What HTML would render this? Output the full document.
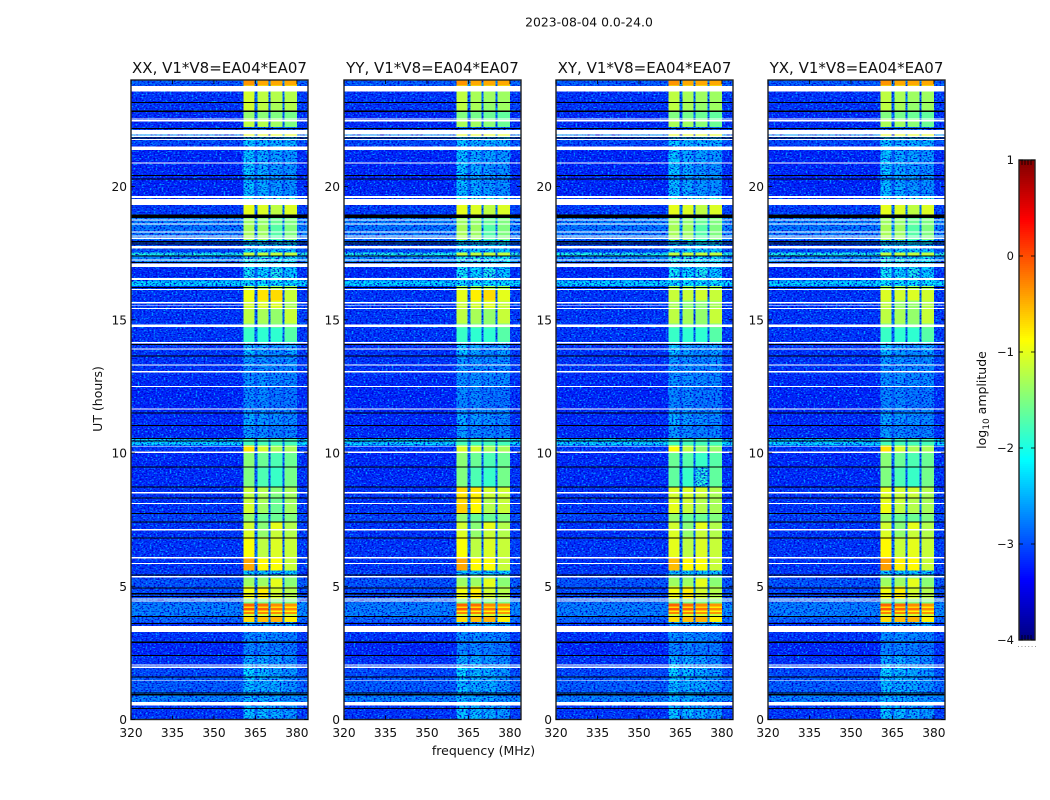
<!DOCTYPE html>
<html lang="en">
<head>
<meta charset="utf-8">
<title>2023-08-04 dynamic spectra</title>
<style>
html,body{margin:0;padding:0;background:#fff;}
svg{display:block;font-family:"DejaVu Sans","Liberation Sans",sans-serif;fill:#111;}
</style>
</head>
<body>
<svg id="figure" xmlns="http://www.w3.org/2000/svg" width="1050" height="800" viewBox="0 0 1050 800">
<defs>
<filter id="speckLight" x="0" y="0" width="1" height="1" color-interpolation-filters="sRGB">
<feTurbulence type="fractalNoise" baseFrequency="0.5 0.7" numOctaves="1" seed="4"/>
<feColorMatrix type="matrix" values="0 0 0 0 0  0 0 0 0 0.62  0 0 0 0 1  0 0 0 5 -2.55"/>
</filter>
<filter id="speckDark" x="0" y="0" width="1" height="1" color-interpolation-filters="sRGB">
<feTurbulence type="fractalNoise" baseFrequency="0.5 0.72" numOctaves="1" seed="11"/>
<feColorMatrix type="matrix" values="0 0 0 0 0  0 0 0 0 0  0 0 0 0 0.82  0 0 0 4 -1.85"/>
</filter>
</defs>
<text x="589" y="26.5" font-size="12.4" text-anchor="middle">2023-08-04 0.0-24.0</text>
<text x="483.5" y="755" font-size="12.5" text-anchor="middle">frequency (MHz)</text>
<text transform="translate(102,399) rotate(-90)" font-size="12.5" text-anchor="middle">UT (hours)</text>
<text transform="translate(986,400) rotate(-90)" font-size="12.5" text-anchor="middle">log<tspan font-size="9" dy="3">10</tspan><tspan dy="-3"> amplitude</tspan></text>
<g id="panels"></g>
<g id="colorbar"></g>
</svg>
<script>
// ---------- chart data ----------
const panelNames = ['XX', 'YY', 'XY', 'YX'];
const panelTitleSuffix = ', V1*V8=EA04*EA07';
const xTicks = [320, 335, 350, 365, 380];
const yTicks = [0, 5, 10, 15, 20];
const colorbarTicks = [1, 0, -1, -2, -3, -4];
const colorbarTickLabels = ['1', '0', '\u22121', '\u22122', '\u22123', '\u22124'];
const freqLimits = [320, 384];
const timeLimits = [0, 24];
const valueLimits = [-4, 1];

// frequency edges (MHz): background, band 1, gap, band 2, gap, band 3, gap, band 4, tail
const freqEdges = [320, 360.6, 364.7, 365.8, 369.7, 370.4, 374.7, 375.5, 380, 384];

// time row upper edges (hours), last row ends at 0
const rowTop = [24,23.80,23.57,23.20,22.86,22.56,22.23,21.96,21.89,21.55,20.95,20.46,20.31,19.64,19.30,18.96,18.83,18.55,17.99,17.87,17.53,17.42,17.16,16.97,16.60,16.48,16.26,16.15,15.73,15.40,14.87,14.72,14.19,14.12,13.71,13.33,12.88,12.51,11.68,11.53,11.04,10.59,10.52,10.29,10.03,9.50,8.75,8.53,8.34,8.12,7.74,7.44,7.14,6.84,6.09,5.60,5.45,5.30,5.00,4.55,4.36,4.25,4.18,4.10,4.03,3.95,3.88,3.65,3.50,3.28,2.90,2.41,2.04,1.62,1.47,1.02,0.65,0.42];
const bgLevel = [-2.9,-3.08,-3.12,-3.12,-3.18,-3.18,-3.08,-2.6,-3,-3.2,-3.2,-3.2,-3.2,-3.08,-3.08,-3.08,-2.7,-2.75,-2.95,-3,-2,-2.65,-3.08,-3.18,-3.08,-2.25,-3.08,-3.12,-3.12,-3.12,-3.08,-3.12,-3.08,-3.12,-3.12,-3.12,-3.18,-3.2,-3.18,-3.18,-3.18,-3,-2.25,-3.12,-3.18,-3.18,-3.12,-3.12,-3.12,-3.12,-3.05,-3.12,-3.12,-3.12,-3.12,-3.08,-3.08,-2.95,-3,-2.8,-2.7,-2.7,-2.7,-2.7,-2.7,-2.7,-2.85,-3.08,-3.08,-3.12,-3.2,-3.12,-3,-2.9,-2.9,-2.7,-3.08,-3.12];
const band1 = [-0.35,-1,-1.1,-1.1,-1.4,-1.2,-2.8,-1,-2.3,-2.3,-2.3,-2.5,-2.35,-2,-1.0,-1,-1.35,-1.3,-2.1,-2.3,-1.2,-2,-2.2,-2.05,-2,-2.15,-1.3,-0.95,-1.1,-1.2,-1.5,-1.85,-1.9,-2.3,-2.55,-2.6,-2.6,-2.65,-2.6,-2.45,-2.55,-2.5,-1.8,-0.75,-1.45,-1.5,-1.15,-1.2,-1.15,-1.1,-1.4,-1.1,-1.05,-0.9,-0.45,-2.3,-1.5,-1.35,-0.95,-1.5,-0.1,-0.7,-0.05,-0.8,-0.25,-1.1,-0.7,-2.5,-2.5,-2.6,-2.65,-2.45,-2.2,-2.3,-2.35,-2.4,-2.45,-2.3];
const band2 = [-0.45,-1,-1.2,-1.2,-1.45,-1.25,-2.8,-1,-2.4,-2.45,-2.45,-2.5,-2.45,-2,-1.05,-1,-1.4,-1.35,-2.1,-2.3,-1.2,-2,-2.2,-2.2,-2,-2.15,-1.3,-0.75,-1.05,-1.3,-1.5,-1.9,-1.9,-2.5,-2.6,-2.6,-2.6,-2.65,-2.6,-2.55,-2.65,-2.5,-1.8,-1.1,-1.6,-1.75,-1.25,-1.3,-1.3,-1.35,-1.6,-1.45,-1.4,-1.2,-0.85,-2.3,-1.5,-1.35,-0.8,-1.5,-0.15,-0.7,-0.1,-0.8,-0.25,-1.1,-0.55,-2.5,-2.5,-2.6,-2.65,-2.45,-2.35,-2.4,-2.45,-2.45,-2.45,-2.35];
const band3 = [-0.45,-1,-1.25,-1.3,-1.5,-1.35,-2.8,-1,-2.4,-2.5,-2.55,-2.55,-2.55,-2,-1.2,-1,-1.6,-1.7,-2.1,-2.3,-1.2,-2.1,-2.2,-2,-2,-2.15,-1.3,-0.7,-1.05,-1.4,-1.5,-1.9,-1.9,-2.6,-2.65,-2.65,-2.65,-2.75,-2.65,-2.6,-2.7,-2.55,-1.8,-1.3,-1.75,-1.85,-1.45,-1.5,-1.6,-1.6,-1.6,-1,-1.15,-1.05,-0.9,-2.3,-1.5,-1,-1.1,-1.5,-0.3,-0.7,-0.2,-0.85,-0.3,-1.1,-0.5,-2.5,-2.5,-2.65,-2.7,-2.55,-2.45,-2.45,-2.45,-2.5,-2.55,-2.45];
const band4 = [-0.45,-1,-1.25,-1.25,-1.55,-1.5,-2.8,-1,-2.4,-2.55,-2.6,-2.6,-2.6,-2,-1.05,-1,-1.5,-1.5,-2.1,-2.3,-1.2,-2.1,-2.2,-2.3,-2,-2.15,-1.3,-1.15,-1.3,-1.15,-1.5,-1.7,-1.9,-2.5,-2.6,-2.65,-2.65,-2.75,-2.65,-2.65,-2.7,-2.55,-1.8,-1.3,-1.6,-1.55,-1.3,-1.35,-1.35,-1.35,-1.5,-1.25,-1.25,-1.15,-1.15,-2.3,-1.5,-1.45,-1.25,-1.5,-0.35,-0.8,-0.3,-0.9,-0.35,-1.15,-0.8,-2.5,-2.5,-2.7,-2.75,-2.65,-2.55,-2.6,-2.6,-2.6,-2.6,-2.55];

// per-panel adjustment windows: panel index, upper hour, lower hour, band offsets
const deltaPanel = [1, 1, 1, 2, 2, 2, 2, 3, 3, 3, 1, 2, 3];
const deltaTop = [8.75, 10.29, 16.15, 16.15, 10.29, 6.84, 8.75, 16.15, 8.75, 6.84, 23.57, 23.57, 23.57];
const deltaBottom = [7.74, 10.03, 15.40, 15.40, 8.75, 5.60, 7.74, 15.40, 7.74, 5.60, 22.23, 22.23, 22.23];
const deltaBand1 = [0.45, -0.3, -0.05, -0.2, -0.15, -0.1, 0.1, -0.1, 0.15, 0.05, -0.1, -0.1, -0.1];
const deltaBand2 = [0.5, 0, -0.05, -0.4, -0.1, 0, 0.2, -0.35, 0.15, 0.05, -0.1, -0.1, -0.1];
const deltaBand3 = [0.35, 0, 0, -0.4, -0.1, 0, 0.35, -0.35, 0.35, 0.05, -0.1, -0.1, -0.1];
const deltaBand4 = [0.2, 0, 0.15, 0, -0.1, 0, 0.05, 0.05, 0.05, 0, -0.1, -0.1, -0.1];

// flagged (blank) time ranges, hours
const flaggedTop = [23.78,22.56,22.49,22.13,21.91,21.78,21.51,20.91,19.64,19.53,18.77,18.62,18.32,18.17,18.08,17.77,17.27,17.12,16.56,16.15,15.66,15.56,15.45,14.83,14.16,13.93,13.33,13.07,12.51,11.68,10.27,10.05,8.53,8.12,7.14,6.09,5.87,5.38,4.55,4.46,3.51,2.06,1.98,1.47,0.66];
const flaggedBottom = [23.57,22.52,22.45,21.96,21.87,21.74,21.37,20.87,19.58,19.31,18.73,18.58,18.28,18.13,18.04,17.68,17.23,16.98,16.50,16.11,15.62,15.53,15.41,14.73,14.12,13.89,13.28,13.03,12.47,11.64,10.24,10.01,8.49,8.08,7.10,6.05,5.83,5.32,4.51,4.42,3.29,2.02,1.94,1.44,0.53];

// zero-amplitude (black) time ranges, hours
const zeroTop = [23.18,22.85,22.20,21.85,20.44,20.31,18.96,17.95,17.87,17.42,17.17,16.24,14.10,13.67,11.53,11.06,10.57,10.48,9.49,8.75,8.33,7.75,7.43,6.83,5.45,4.95,4.74,4.64,3.88,3.62,2.92,2.43,1.62,1.02,0.95,0.44];
const zeroBottom = [23.14,22.79,22.16,21.81,20.40,20.27,18.83,17.91,17.83,17.38,17.13,16.20,14.06,13.63,11.49,11.02,10.53,10.44,9.45,8.71,8.29,7.71,7.39,6.79,5.40,4.91,4.70,4.60,3.84,3.58,2.88,2.39,1.58,0.98,0.91,0.40];

// ---------- layout ----------
const SVGNS = 'http://www.w3.org/2000/svg';
const panelLeft = [131, 344, 556, 768];
const panelWidth = 177;
const plotTop = 80;
const plotBottom = 719.5;
const cbLeft = 1019, cbWidth = 16, cbTop = 160, cbBottom = 640;

function xAxis(f, i) { return panelLeft[i] + (f - freqLimits[0]) / (freqLimits[1] - freqLimits[0]) * panelWidth; }
function yAxis(t) { return plotBottom - (t - timeLimits[0]) / (timeLimits[1] - timeLimits[0]) * (plotBottom - plotTop); }
function cbAxis(v) { return cbBottom - (v - valueLimits[0]) / (valueLimits[1] - valueLimits[0]) * (cbBottom - cbTop); }
function clamp01(a) { return Math.max(0, Math.min(1, a)); }
function jet(v) {
  const f = clamp01((v - valueLimits[0]) / (valueLimits[1] - valueLimits[0]));
  const r = clamp01(Math.min(4 * f - 1.5, -4 * f + 4.5));
  const g = clamp01(Math.min(4 * f - 0.5, -4 * f + 3.5));
  const b = clamp01(Math.min(4 * f + 0.5, -4 * f + 2.5));
  return 'rgb(' + Math.round(r * 255) + ',' + Math.round(g * 255) + ',' + Math.round(b * 255) + ')';
}
function node(tag, parent, attrs) {
  const el = document.createElementNS(SVGNS, tag);
  for (const k in attrs) el.setAttribute(k, attrs[k]);
  parent.appendChild(el);
  return el;
}
function bandLevel(p, r, b) {
  const base = [band1, band2, band3, band4][b][r];
  const deltas = [deltaBand1, deltaBand2, deltaBand3, deltaBand4][b];
  let v = base;
  for (let d = 0; d < deltaPanel.length; d++) {
    if (deltaPanel[d] === p && rowTop[r] <= deltaTop[d] && rowTop[r] > deltaBottom[d]) v += deltas[d];
  }
  return v;
}
function cellLevel(p, r, c) {
  if (c === 0) return bgLevel[r];
  if (c === 8) return bgLevel[r] + 0.05;
  if (c % 2 === 1) return bandLevel(p, r, (c - 1) / 2);
  return Math.min(bgLevel[r] + 0.3, -2.6);
}

const panelsRoot = document.getElementById('panels');
panelNames.forEach(function (pol, p) {
  const g = node('g', panelsRoot, {});
  
  

  const noisy = node('g', g, { 'shape-rendering': 'crispEdges' });
  
  

  const speckLight = node('rect', g, { x: panelLeft[p], y: plotTop, width: panelWidth, height: plotBottom - plotTop, filter: 'url(#speckLight)' });
  
  
  const speckDark = node('rect', g, { x: panelLeft[p], y: plotTop, width: panelWidth, height: plotBottom - plotTop, filter: 'url(#speckDark)' });
  
  

  const smooth = node('g', g, { 'shape-rendering': 'crispEdges' });
  
  

  rowTop.forEach(function (top, r) {
    const bottom = r + 1 < rowTop.length ? rowTop[r + 1] : timeLimits[0];
    for (let c = 0; c + 1 < freqEdges.length; c++) {
      const v = cellLevel(p, r, c);
      const x0 = xAxis(freqEdges[c], p), x1 = xAxis(freqEdges[c + 1], p);
      const y0 = yAxis(top), y1 = yAxis(bottom);
      const cell = node('rect', v > -1.95 ? smooth : noisy, { x: x0, y: y0, width: x1 - x0, height: y1 - y0, fill: jet(v) });
      
      
    }
  });

  zeroTop.forEach(function (t, i) {
    const line = node('rect', g, { x: panelLeft[p], y: yAxis(t), width: panelWidth, height: yAxis(zeroBottom[i]) - yAxis(t), fill: '#000', 'shape-rendering': 'crispEdges' });
    
    
  });
  flaggedTop.forEach(function (t, i) {
    const line = node('rect', g, { x: panelLeft[p], y: yAxis(t), width: panelWidth, height: yAxis(flaggedBottom[i]) - yAxis(t), fill: '#fff', 'shape-rendering': 'crispEdges' });
    
    
  });

  const frame = node('rect', g, { x: panelLeft[p], y: plotTop, width: panelWidth, height: plotBottom - plotTop, fill: 'none', stroke: '#222', 'stroke-width': 1.4 });
  
  

  const title = node('text', g, { x: panelLeft[p] + panelWidth / 2, y: 73, 'font-size': 15, 'text-anchor': 'middle' });
  title.textContent = pol + panelTitleSuffix;
  
  

  xTicks.forEach(function (f) {
    const x = xAxis(f, p);
    const t1 = node('line', g, { x1: x, x2: x, y1: plotBottom, y2: plotBottom - 4, stroke: '#000', 'stroke-width': 0.8 });
    
    
    const t2 = node('line', g, { x1: x, x2: x, y1: plotTop, y2: plotTop + 4, stroke: '#000', 'stroke-width': 0.8 });
    
    
    const label = node('text', g, { x: x, y: 737, 'font-size': 12.2, 'text-anchor': 'middle' });
    label.textContent = String(f);
    
    
  });
  yTicks.forEach(function (h) {
    const y = yAxis(h);
    const t1 = node('line', g, { x1: panelLeft[p], x2: panelLeft[p] + 4, y1: y, y2: y, stroke: '#000', 'stroke-width': 0.8 });
    
    
    const t2 = node('line', g, { x1: panelLeft[p] + panelWidth, x2: panelLeft[p] + panelWidth - 4, y1: y, y2: y, stroke: '#000', 'stroke-width': 0.8 });
    
    
    const label = node('text', g, { x: panelLeft[p] - 4, y: y + 4.5, 'font-size': 12.2, 'text-anchor': 'end' });
    label.textContent = String(h);
    
    
  });
});

// ---------- colorbar ----------
const cbRoot = document.getElementById('colorbar');
const cbGrad = node('g', cbRoot, { 'shape-rendering': 'crispEdges' });


for (let py = cbTop; py < cbBottom; py += 2) {
  const seg = node('rect', cbGrad, { x: cbLeft, y: py, width: cbWidth, height: 2, fill: jet(valueLimits[1] - (py + 1 - cbTop) / (cbBottom - cbTop) * (valueLimits[1] - valueLimits[0])) });
  
  
}
const cbFrame = node('rect', cbRoot, { x: cbLeft, y: cbTop, width: cbWidth, height: cbBottom - cbTop, fill: 'none', stroke: '#222', 'stroke-width': 1.4 });


colorbarTicks.forEach(function (v, i) {
  const y = cbAxis(v);
  const t1 = node('line', cbRoot, { x1: cbLeft, x2: cbLeft + 4, y1: y, y2: y, stroke: '#000', 'stroke-width': 0.8 });
  
  
  const t2 = node('line', cbRoot, { x1: cbLeft + cbWidth, x2: cbLeft + cbWidth - 4, y1: y, y2: y, stroke: '#000', 'stroke-width': 0.8 });
  
  
  const label = node('text', cbRoot, { x: cbLeft - 5, y: y + 4, 'font-size': 11.5, 'text-anchor': 'end' });
  label.textContent = colorbarTickLabels[i];
  
  
});
[3, 6, 9, 12].forEach(function (dx) {
  const a = node('line', cbRoot, { x1: cbLeft + dx, x2: cbLeft + dx, y1: cbTop, y2: cbTop + 5, stroke: '#000', 'stroke-width': 0.8 });
  
  
  const b = node('line', cbRoot, { x1: cbLeft + dx, x2: cbLeft + dx, y1: cbBottom, y2: cbBottom - 5, stroke: '#000', 'stroke-width': 0.8 });
  
  
});
[0, 3.4, 6.8, 10.2, 13.6, 17].forEach(function (dx) {
  const dot = node('rect', cbRoot, { x: 1018 + dx, y: 646, width: 1, height: 1, fill: '#999' });
  
  
});
</script>
</body>
</html>
